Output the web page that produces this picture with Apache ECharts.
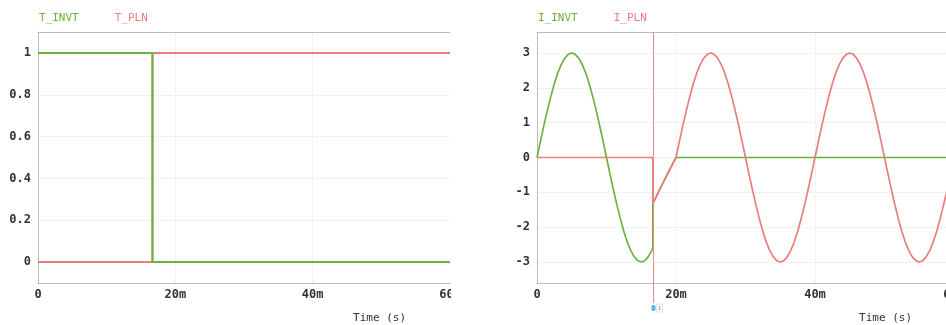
<!DOCTYPE html>
<html>
<head>
<meta charset="utf-8">
<script src="https://cdn.jsdelivr.net/npm/echarts@6/dist/echarts.min.js"></script>
<style>
html,body{margin:0;padding:0;width:946px;height:325px;overflow:hidden;background:#fff;}
#left{position:absolute;left:0;top:0;width:451px;height:325px;}
#right{position:absolute;left:451px;top:0;width:549px;height:325px;}
</style>
</head>
<body>
<div id="left"></div>
<div id="right"></div>
<script>
// ---- data (time in ms) ----
const xTickLabels = ['0', '20m', '40m', '60m'];
const xName = 'Time (s)';

const tInvtTime = [0, 16.67, 16.67, 60];
const tInvtVals = [1, 1, 0, 0];
const tPlnTime  = [0, 16.67, 16.67, 60];
const tPlnVals  = [0, 0, 1, 1];

const iInvtTime = [0,0.5,1,1.5,2,2.5,3,3.5,4,4.5,5,5.5,6,6.5,7,7.5,8,8.5,9,9.5,10,10.5,11,11.5,12,12.5,13,13.5,14,14.5,15,15.5,16,16.5,16.67,16.67,17.5,18.33,19.17,20,60];
const iInvtVals = [0,0.47,0.93,1.36,1.76,2.12,2.43,2.67,2.85,2.96,3,2.96,2.85,2.67,2.43,2.12,1.76,1.36,0.93,0.47,0,-0.47,-0.93,-1.36,-1.76,-2.12,-2.43,-2.67,-2.85,-2.96,-3,-2.96,-2.85,-2.67,-2.60,-1.32,-0.98,-0.65,-0.32,0,0];

const iPlnTime = [0,16.67,16.67,17.5,18.33,19.17,20,
  20.5,21,21.5,22,22.5,23,23.5,24,24.5,25,25.5,26,26.5,27,27.5,28,28.5,29,29.5,30,
  30.5,31,31.5,32,32.5,33,33.5,34,34.5,35,35.5,36,36.5,37,37.5,38,38.5,39,39.5,40,
  40.5,41,41.5,42,42.5,43,43.5,44,44.5,45,45.5,46,46.5,47,47.5,48,48.5,49,49.5,50,
  50.5,51,51.5,52,52.5,53,53.5,54,54.5,55,55.5,56,56.5,57,57.5,58,58.5,59,59.5,60];
const iPlnVals = [0,0,-1.32,-0.98,-0.65,-0.32,0,
  0.47,0.93,1.36,1.76,2.12,2.43,2.67,2.85,2.96,3,2.96,2.85,2.67,2.43,2.12,1.76,1.36,0.93,0.47,0,
  -0.47,-0.93,-1.36,-1.76,-2.12,-2.43,-2.67,-2.85,-2.96,-3,-2.96,-2.85,-2.67,-2.43,-2.12,-1.76,-1.36,-0.93,-0.47,0,
  0.47,0.93,1.36,1.76,2.12,2.43,2.67,2.85,2.96,3,2.96,2.85,2.67,2.43,2.12,1.76,1.36,0.93,0.47,0,
  -0.47,-0.93,-1.36,-1.76,-2.12,-2.43,-2.67,-2.85,-2.96,-3,-2.96,-2.85,-2.67,-2.43,-2.12,-1.76,-1.36,-0.93,-0.47,0];

const markerTime = 16.67;
const markerLabel = '1';

// ---- styles ----
const GREEN = '#6cb33e';
const RED = '#ea7c7c';
const FONT = 'DejaVu Sans Mono';

function pairs(t, v) { return t.map((x, i) => [x, v[i]]); }

function makeOption(cfg) {
  return {
    animation: false,
    textStyle: { fontFamily: FONT },
    legend: {
      left: cfg.legendLeft, top: 8, icon: 'none', itemWidth: 0, itemHeight: 0, itemGap: 31,
      selectedMode: false,
      data: [
        { name: cfg.names[0], textStyle: { color: GREEN } },
        { name: cfg.names[1], textStyle: { color: RED } }
      ],
      textStyle: { fontFamily: FONT, fontSize: 11 }
    },
    grid: { left: cfg.gridLeft, right: cfg.gridRight, top: 32, bottom: 42, outerBoundsMode: 'none', containLabel: false },
    xAxis: [{
      type: 'value', min: 0, max: 60, interval: 20,
      name: xName, nameLocation: 'end', nameGap: cfg.nameGap,
      nameTextStyle: { align: 'right', verticalAlign: 'top', padding: [30, 0, 0, 0], fontFamily: FONT, fontSize: 11, color: '#333' },
      axisLine: { onZero: false, lineStyle: { color: '#bbb' } },
      axisTick: { show: false },
      axisLabel: { fontFamily: FONT, fontSize: 12, fontWeight: 'bold', color: '#333', margin: 6,
        formatter: v => xTickLabels[Math.round(v / 20)] },
      splitLine: { showMaxLine: false, lineStyle: { type: 'dotted', color: '#e6e6e6' } }
    }, {
      type: 'value', min: 0, max: 60, position: 'top',
      axisLine: { show: true, onZero: false, lineStyle: { color: '#bbb' } },
      axisTick: { show: false }, axisLabel: { show: false }, splitLine: { show: false }
    }],
    yAxis: {
      type: 'value', min: cfg.yMin, max: cfg.yMax,
      axisLine: { show: true, onZero: false, lineStyle: { color: '#bbb' } },
      axisTick: { show: false },
      axisLabel: { fontFamily: FONT, fontSize: 12, fontWeight: 'bold', color: '#333', margin: 7,
        showMinLabel: false, showMaxLabel: false },
      splitLine: { showMinLine: false, showMaxLine: false, lineStyle: { type: 'dotted', color: '#e6e6e6' } }
    },
    series: cfg.series
  };
}

const leftChart = echarts.init(document.getElementById('left'));
leftChart.setOption(makeOption({
  names: ['T_INVT', 'T_PLN'], legendLeft: 29, gridLeft: 38, gridRight: 1, nameGap: -44,
  yMin: -0.1, yMax: 1.1,
  series: [
    { name: 'T_INVT', type: 'line', z: 3, showSymbol: false, color: GREEN, lineStyle: { width: 2 }, data: pairs(tInvtTime, tInvtVals) },
    { name: 'T_PLN', type: 'line', z: 2, showSymbol: false, color: RED, lineStyle: { width: 2 }, data: pairs(tPlnTime, tPlnVals) }
  ]
}));

const rightChart = echarts.init(document.getElementById('right'));
rightChart.setOption(makeOption({
  names: ['I_INVT', 'I_PLN'], legendLeft: 77, gridLeft: 86, gridRight: 46, nameGap: -42,
  yMin: -3.6, yMax: 3.6,
  series: [
    { name: 'I_INVT', type: 'line', showSymbol: false, color: GREEN, lineStyle: { width: 1.7 }, data: pairs(iInvtTime, iInvtVals) },
    { name: 'I_PLN', type: 'line', showSymbol: false, color: RED, lineStyle: { width: 1.7 }, data: pairs(iPlnTime, iPlnVals) }
  ]
}));

// cursor marker placed through the chart's own scales
const mx = Math.round(rightChart.convertToPixel({ xAxisIndex: 0 }, markerTime)) + 0.5;
const myTop = rightChart.convertToPixel({ yAxisIndex: 0 }, 3.6);
rightChart.setOption({
  graphic: [
    { type: 'line', shape: { x1: mx, y1: myTop, x2: mx, y2: 303 }, style: { stroke: '#e98a8a', lineWidth: 1 }, z: 10 },
    { type: 'rect', shape: { x: mx - 2, y: 305, width: 4, height: 6, r: 1.5 }, style: { fill: '#5cb6f2' }, z: 11 },
    { type: 'rect', shape: { x: mx + 3, y: 304, width: 6, height: 8 }, style: { fill: '#fff', stroke: '#e2e2e2', lineWidth: 1 }, z: 11 },
    { type: 'text', x: mx + 6, y: 308, style: { text: markerLabel, fontSize: 6, fontFamily: FONT, fill: '#888', align: 'center', verticalAlign: 'middle' }, z: 12 }
  ]
});
</script>
</body>
</html>
